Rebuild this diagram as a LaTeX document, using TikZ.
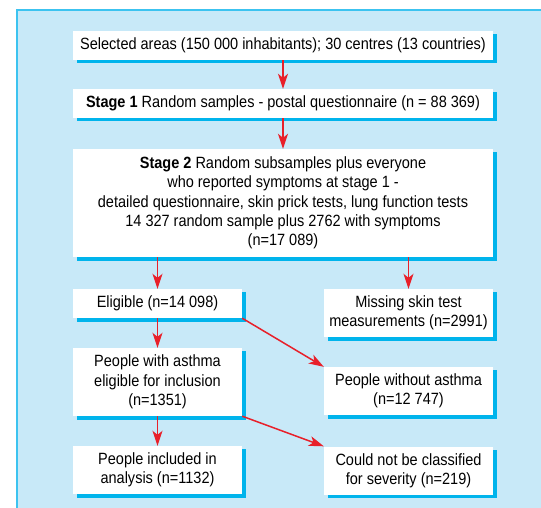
\documentclass[tikz,border=0pt]{standalone}
\usepackage{fontspec}
\setmainfont{Liberation Sans}[FakeStretch=0.89]
\usetikzlibrary{arrows.meta}
\definecolor{panelblue}{HTML}{C8E9F8}
\definecolor{edgeblue}{HTML}{3CC3F0}
\definecolor{shadowblue}{HTML}{00B4EC}
\definecolor{arrowred}{HTML}{E8202A}
\tikzset{
  boxw/.style={fill=white, inner sep=0pt, align=center, font=\fontsize{16.3}{19.3}\selectfont},
  flow/.style={draw=arrowred, line width=1.5pt, -{Stealth[length=15pt,width=10pt,inset=4pt]}},
  shadowbox/.style={fill=shadowblue}
}
% #1 name, #2 cx, #3 cy, #4 width, #5 height, #6 text
\newcommand{\flowbox}[6]{%
  \fill[shadowbox] ({#2-#4/2+4},{#3-#5/2+3}) rectangle ({#2+#4/2+4},{#3+#5/2+3.5});
  \node[boxw, minimum width=#4pt, minimum height=#5pt] (#1) at (#2,#3) {#6};}
\begin{document}
\begin{tikzpicture}[x=1pt,y=-1pt]
\useasboundingbox (0,0) rectangle (541,508);
\fill[white] (0,0) rectangle (541,508);
\fill[panelblue] (17,10) rectangle (541,508);
\fill[edgeblue] (15.5,10) rectangle (18,508);
\fill[edgeblue] (15.5,9.5) rectangle (541,11.5);
\flowbox{b1}{283}{45.5}{420}{29}{Selected areas (150 000 inhabitants); 30 centres (13 countries)}
\flowbox{b2}{283}{103.5}{420}{29}{\textbf{Stage 1} Random samples - postal questionnaire (n = 88 369)}
\flowbox{b3}{283}{203}{420}{108}{\textbf{Stage 2} Random subsamples plus everyone\\who reported symptoms at stage 1 -\\detailed questionnaire, skin prick tests, lung function tests\\14 327 random sample plus 2762 with symptoms\\(n=17 089)}
\flowbox{elig}{157.5}{303.5}{169}{29}{Eligible (n=14 098)}
\flowbox{miss}{408.5}{313}{169}{48}{Missing skin test\\measurements (n=2991)}
\flowbox{asth}{157.5}{382}{169}{68}{People with asthma\\eligible for inclusion\\(n=1351)}
\flowbox{noas}{408.5}{391}{169}{48}{People without asthma\\(n=12 747)}
\flowbox{incl}{157.5}{470}{169}{48}{People included in\\analysis (n=1132)}
\flowbox{cls}{408.5}{470.5}{169}{48}{Could not be classified\\for severity (n=219)}
\draw[flow] (b1.south) -- (b2.north);
\draw[flow] (b2.south) -- (b3.north);
\draw[flow] (b3.south -| elig.north) -- (elig.north);
\draw[flow] (b3.south -| miss.north) -- (miss.north);
\draw[flow] (elig.south) -- (asth.north);
\draw[flow] (asth.south) -- (incl.north);
\draw[flow] (elig.south east) -- (noas.north west);
\draw[flow] (asth.south east) -- (cls.north west);
\end{tikzpicture}
\end{document}
